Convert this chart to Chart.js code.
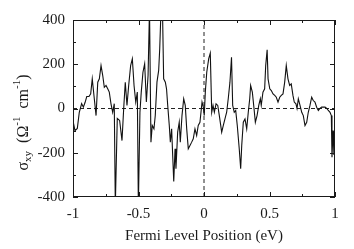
<!DOCTYPE html>
<html>
<head>
<meta charset="utf-8">
<script src="https://cdn.jsdelivr.net/npm/chart.js@4.4.0/dist/chart.umd.min.js"></script>
<style>
  html, body { margin: 0; padding: 0; background: #fff; }
</style>
</head>
<body>
<canvas id="chart" width="354" height="249"></canvas>
<script>
// Fermi level position (eV) and Hall conductivity sigma_xy (1/(Ohm cm))
const energy = [
  -0.998, -0.985, -0.967, -0.952, -0.934, -0.921, -0.908, -0.895, -0.878, -0.865,
  -0.853, -0.840, -0.824, -0.811, -0.799, -0.786, -0.773, -0.761, -0.748, -0.735,
  -0.723, -0.710, -0.697, -0.685, -0.677, -0.662, -0.644, -0.626, -0.613, -0.601,
  -0.588, -0.575, -0.560, -0.547, -0.534, -0.521, -0.509, -0.501, -0.489, -0.479,
  -0.466, -0.453, -0.440, -0.427, -0.416, -0.405, -0.395, -0.382, -0.372, -0.359,
  -0.346, -0.338, -0.328, -0.317, -0.308, -0.295, -0.286, -0.277, -0.265, -0.257,
  -0.247, -0.239, -0.231, -0.221, -0.214, -0.201, -0.189, -0.181, -0.168, -0.155,
  -0.143, -0.132, -0.120, -0.107, -0.094, -0.082, -0.069, -0.056, -0.044, -0.031,
  -0.023, -0.015, -0.005, 0.002, 0.010, 0.021, 0.036, 0.048, 0.059, 0.069,
  0.079, 0.092, 0.105, 0.117, 0.135, 0.147, 0.160, 0.173, 0.185, 0.198,
  0.210, 0.219, 0.231, 0.242, 0.254, 0.269, 0.280, 0.288, 0.300, 0.313,
  0.326, 0.338, 0.349, 0.356, 0.369, 0.382, 0.392, 0.405, 0.418, 0.430,
  0.437, 0.450, 0.463, 0.471, 0.482, 0.489, 0.502, 0.514, 0.527, 0.540,
  0.552, 0.565, 0.578, 0.590, 0.603, 0.616, 0.628, 0.641, 0.654, 0.666,
  0.679, 0.689, 0.702, 0.710, 0.720, 0.733, 0.746, 0.758, 0.771, 0.784,
  0.796, 0.809, 0.822, 0.834, 0.847, 0.860, 0.873, 0.885, 0.898, 0.911,
  0.924, 0.937, 0.949, 0.962, 0.972, 0.977, 0.985, 0.992
];
const sigmaXY = [
  -62, -100, -90, -17, 22, 6, 27, 54, 54, 66,
  134, 59, -32, 119, 134, 194, 149, 96, 104, 89,
  74, 21, -17, 22, -440, -45, -54, -145, 0, 119,
  14, 104, 194, 225, 104, 29, 74, -440, -17, 74,
  164, 202, 29, 149, 450, -152, -77, -92, -32, 119,
  172, 270, 450, 450, 134, 119, 89, 14, -77, -152,
  -92, -212, -330, -182, -272, -107, -62, -152, -32, 44,
  14, -92, -182, -167, -152, -137, -92, -122, -77, -62,
  -17, 29, 6, -32, 74, 164, 225, 250, -17, 14,
  -17, 21, 14, -32, -107, -77, -47, -17, 44, 119,
  232, 14, -17, -9, -77, -182, -272, -167, -62, -47,
  -92, -17, 44, 104, 74, -1, -62, -32, 14, 44,
  14, 74, 89, 194, 265, 134, 89, 81, 66, 59,
  51, 29, 51, 59, 66, 119, 194, 134, 104, 111,
  59, 29, 21, 0, 44, 14, -17, -32, -77, -62,
  -17, 14, 51, 36, 29, 6, -9, 0, 6, 6,
  6, 0, -9, -17, -32, -220, -100, -210
];
const xTickLabels = [-1, -0.5, 0, 0.5, 1];
const yTickLabels = [-400, -200, 0, 200, 400];
const xMinorStep = 0.25;
const yMinorStep = 100;

const serif = '"Liberation Serif", "Times New Roman", serif';
const ink = '#1a1a1a';

// frame, inward ticks on all four sides, and the y title with sub/superscripts
const framePlugin = {
  id: 'frame',
  afterDraw(chart) {
    const { ctx, chartArea: a, scales: { x, y } } = chart;
    ctx.save();
    ctx.strokeStyle = ink;
    ctx.lineWidth = 1;
    ctx.strokeRect(a.left + 0.5, a.top + 0.5, a.right - a.left - 1, a.bottom - a.top - 1);

    ctx.beginPath();
    for (let v = x.min; v <= x.max + 1e-9; v += xMinorStep) {
      const px = Math.round(x.getPixelForValue(v)) + 0.5;
      const len = Math.abs(v / 0.5 - Math.round(v / 0.5)) < 1e-6 ? 5 : 3;
      ctx.moveTo(px, a.bottom); ctx.lineTo(px, a.bottom - len);
      ctx.moveTo(px, a.top); ctx.lineTo(px, a.top + len);
    }
    for (let v = y.min; v <= y.max + 1e-9; v += yMinorStep) {
      const py = Math.round(y.getPixelForValue(v)) + 0.5;
      const len = v % 200 === 0 ? 5 : 3;
      ctx.moveTo(a.left, py); ctx.lineTo(a.left + len, py);
      ctx.moveTo(a.right, py); ctx.lineTo(a.right - len, py);
    }
    ctx.stroke();

    // y title: sigma_xy (Omega^-1 cm^-1)
    const parts = [
      { t: 'σ', size: 16, dy: 0 },
      { t: 'xy', size: 11, dy: 4 },
      { t: '  (Ω', size: 16, dy: 0 },
      { t: '-1', size: 11, dy: -7 },
      { t: '  cm', size: 16, dy: 0 },
      { t: '-1', size: 11, dy: -7 },
      { t: ')', size: 16, dy: 0 }
    ];
    let total = 0;
    parts.forEach(p => { ctx.font = p.size + 'px ' + serif; p.w = ctx.measureText(p.t).width; total += p.w; });
    ctx.translate(24, (a.top + a.bottom) / 2 + 14);
    ctx.rotate(-Math.PI / 2);
    ctx.fillStyle = ink;
    ctx.textBaseline = 'middle';
    let cx = -total / 2;
    parts.forEach(p => {
      ctx.font = p.size + 'px ' + serif;
      ctx.fillText(p.t, cx, p.dy);
      cx += p.w;
    });
    ctx.restore();
  }
};

const ctx = document.getElementById('chart').getContext('2d');
new Chart(ctx, {
  type: 'line',
  data: {
    datasets: [
      {
        data: energy.map((e, i) => ({ x: e, y: sigmaXY[i] })),
        borderColor: '#111',
        borderWidth: 1.1,
        pointRadius: 0,
        tension: 0
      },
      {
        data: [{ x: -1, y: 0 }, { x: 1, y: 0 }],
        borderColor: '#222',
        borderWidth: 1,
        borderDash: [4, 3],
        pointRadius: 0
      },
      {
        data: [{ x: 0, y: -400 }, { x: 0, y: 400 }],
        borderColor: '#222',
        borderWidth: 1,
        borderDash: [4, 3],
        pointRadius: 0
      }
    ]
  },
  options: {
    responsive: false,
    animation: false,
    layout: { padding: { left: 0, right: 19, top: 20, bottom: 0 } },
    plugins: { legend: { display: false }, tooltip: { enabled: false } },
    scales: {
      x: {
        type: 'linear',
        min: -1, max: 1,
        grid: { display: false, drawTicks: false },
        border: { display: false },
        afterBuildTicks: s => { s.ticks = xTickLabels.map(v => ({ value: v })); },
        afterFit: s => { s.height = 52; },
        ticks: { color: ink, padding: 8, font: { family: serif, size: 15 }, maxRotation: 0, callback: v => String(v) },
        title: { display: true, text: 'Fermi Level Position (eV)', color: ink, font: { family: serif, size: 15 }, padding: { top: 0, bottom: 4 } }
      },
      y: {
        min: -400, max: 400,
        grid: { display: false, drawTicks: false },
        border: { display: false },
        afterBuildTicks: s => { s.ticks = yTickLabels.map(v => ({ value: v })); },
        afterFit: s => { s.width = 73; },
        ticks: { color: ink, padding: 8, font: { family: serif, size: 15 }, callback: v => String(v) }
      }
    }
  },
  plugins: [framePlugin]
});
</script>
</body>
</html>
